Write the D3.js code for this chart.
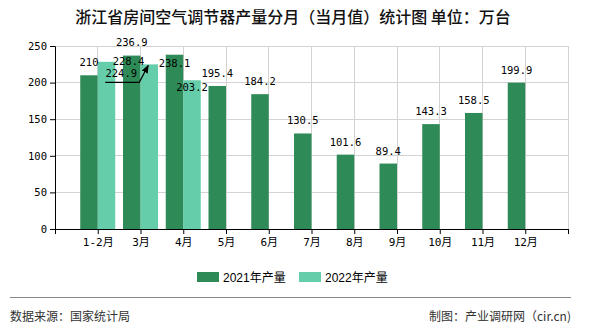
<!DOCTYPE html>
<html><head><meta charset="utf-8">
<script src="https://cdn.jsdelivr.net/npm/d3@7"></script>
<style>
html,body{margin:0;padding:0;background:#fff;}
svg{display:block;}
</style></head>
<body>
<svg id="chart" width="590" height="330"></svg>
<script>
const categories = ["1-2月","3月","4月","5月","6月","7月","8月","9月","10月","11月","12月"];
const values2021 = [210, 236.9, 238.1, 195.4, 184.2, 130.5, 101.6, 89.4, 143.3, 158.5, 199.9];
const values2022 = [228.4, 224.9, 203.2];
const seriesNames = ["2021年产量", "2022年产量"];
const yTicks = [0, 50, 100, 150, 200, 250];
const titleText = "浙江省房间空气调节器产量分月（当月值）统计图 单位：万台";
const sourceText = "数据来源：国家统计局";
const creditText = "制图：产业调研网（cir.cn)";

const colors = ["#2e8b57", "#66cdaa"];
const numFont = "'DejaVu Sans Mono', 'Noto Sans CJK SC', monospace";
const cjkFont = "'Noto Sans CJK SC', sans-serif";

const svg = d3.select("#chart");
const pL = 55, pR = 568, pT = 46, pB = 229;

const x = d3.scalePoint().domain(d3.range(-1, categories.length + 1)).range([pL, pR]);
const y = d3.scaleLinear().domain([0, 250]).range([pB, pT]);
const bw = 17.5;

// title
svg.append("text").attr("x", 293).attr("y", 23).attr("text-anchor", "middle")
  .style("font-family", cjkFont).style("font-size", "16px").style("font-weight", "500")
  .attr("fill", "#111").text(titleText);

// grid
const grid = svg.append("g");
yTicks.filter(t => t > 0).forEach(t => {
  grid.append("line").attr("x1", pL).attr("x2", pR).attr("y1", y(t)).attr("y2", y(t))
    .attr("stroke", "#d3d3d3").attr("stroke-width", 1).attr("shape-rendering", "crispEdges");
});
d3.range(0, categories.length + 1).forEach(i => {
  grid.append("line").attr("x1", x(i)).attr("x2", x(i)).attr("y1", pT).attr("y2", pB)
    .attr("stroke", "#d3d3d3").attr("stroke-width", 1).attr("shape-rendering", "crispEdges");
});

// bars
const bars = svg.append("g");
bars.selectAll("rect.s1").data(values2021).join("rect").attr("class", "s1")
  .attr("x", (d, i) => x(i) - bw).attr("width", bw)
  .attr("y", d => y(d)).attr("height", d => y(0) - y(d)).attr("fill", colors[0]);
bars.selectAll("rect.s2").data(values2022).join("rect").attr("class", "s2")
  .attr("x", (d, i) => x(i)).attr("width", bw)
  .attr("y", d => y(d)).attr("height", d => y(0) - y(d)).attr("fill", colors[1]);

// axes
const yAxis = d3.axisLeft(y).tickValues(yTicks).tickSize(5).tickPadding(3);
const gy = svg.append("g").attr("transform", `translate(${pL},0)`).call(yAxis);
gy.select(".domain").attr("stroke", "#000");
gy.selectAll("text").style("font-family", numFont).style("font-size", "10.5px").attr("fill", "#000");

const xAxis = d3.axisBottom(x).tickSize(5).tickPadding(4)
  .tickFormat(i => (i >= 0 && i < categories.length) ? categories[i] : "");
const gx = svg.append("g").attr("transform", `translate(0,${pB})`).call(xAxis);
gx.select(".domain").attr("stroke", "#000").attr("d", `M${pL},0.5H${pR}`);
gx.selectAll("text").style("font-family", numFont).style("font-size", "11px").attr("fill", "#000");

// data labels (with collision adjustments)
const adj2021 = {1: [0, -1], 2: [0, 21]};
const adj2022 = {0: [22, 12], 1: [-28, 22], 2: [0, 20]};
const labels = svg.append("g").style("font-family", numFont).style("font-size", "10.5px").attr("fill", "#000");
values2021.forEach((v, i) => {
  const a = adj2021[i] || [0, 0];
  labels.append("text").attr("x", x(i) - bw / 2 + a[0]).attr("y", y(v) - 9 + a[1])
    .attr("text-anchor", "middle").text(v);
});
values2022.forEach((v, i) => {
  const a = adj2022[i] || [0, 0];
  labels.append("text").attr("x", x(i) + bw / 2 + a[0]).attr("y", y(v) - 9 + a[1])
    .attr("text-anchor", "middle").text(v);
});
// leader line for the displaced 224.9 label
svg.append("defs").append("marker").attr("id", "arr").attr("viewBox", "0 0 10 10")
  .attr("refX", 9).attr("refY", 5).attr("markerWidth", 7).attr("markerHeight", 7)
  .attr("orient", "auto").append("path").attr("d", "M0,1L10,5L0,9Z").attr("fill", "#000");
{
  const bx = x(1) + bw / 2, by = y(values2022[1]);
  const ly = by + 18;
  svg.append("path").attr("d", `M${bx - 44},${ly}H${bx - 10}L${bx - 1},${by + 1}`)
    .attr("fill", "none").attr("stroke", "#000").attr("stroke-width", 1.2)
    .attr("marker-end", "url(#arr)");
}

// legend
const lg = svg.append("g");
const lx = [197, 299];
seriesNames.forEach((n, i) => {
  lg.append("rect").attr("x", lx[i]).attr("y", 272).attr("width", 22).attr("height", 10).attr("fill", colors[i]);
  lg.append("text").attr("x", lx[i] + 26).attr("y", 281.5)
    .style("font-family", "'Liberation Sans', 'Noto Sans CJK SC', sans-serif").style("font-size", "12px")
    .attr("fill", "#000").text(n);
});

// footer
svg.append("line").attr("x1", 10).attr("x2", 571).attr("y1", 297.5).attr("y2", 297.5)
  .attr("stroke", "#888").attr("stroke-width", 1);
svg.append("text").attr("x", 10).attr("y", 321).style("font-family", cjkFont).style("font-size", "12px")
  .attr("fill", "#333").text(sourceText);
svg.append("text").attr("x", 571).attr("y", 321).attr("text-anchor", "end").style("font-family", cjkFont).style("font-size", "12px")
  .attr("fill", "#333").text(creditText);
</script>
</body></html>
